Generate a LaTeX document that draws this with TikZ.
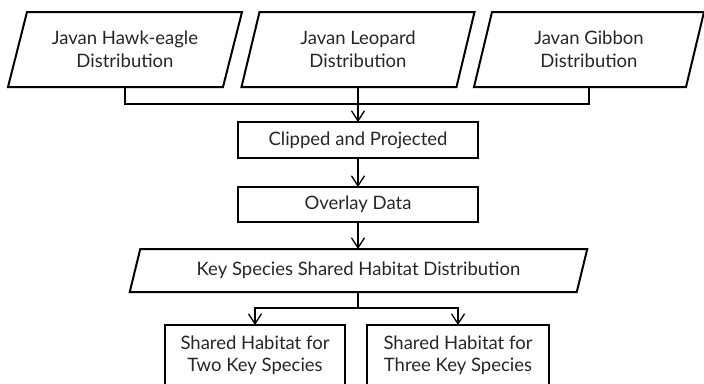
\documentclass[tikz,border=0pt]{standalone}
\usepackage{fontspec}
\setmainfont{Lato}
\usetikzlibrary{arrows.meta}
\definecolor{textgray}{HTML}{262626}
\begin{document}
\begin{tikzpicture}[x=1pt,y=-1pt,
  txt/.style={rectangle, align=center, inner sep=0pt, outer sep=0pt, text=textgray,
    font=\fontsize{18.5}{22.5}\selectfont},
  box/.style={txt, draw=black, line width=2pt},
  outline/.style={draw, line width=2pt, line join=miter},
  conn/.style={line width=1.3pt},
  arr/.style={conn, -{Straight Barb[length=10pt,width=13pt]}},
]
\useasboundingbox (0,0) rectangle (704,383);
\newcommand\drawpara[2]{\draw[outline] ([xshift=#2]#1.north west) -- ([xshift=#2]#1.north east) -- ([xshift=-#2]#1.south east) -- ([xshift=-#2]#1.south west) -- cycle;}

\node[txt, minimum width=215pt, minimum height=75pt] (hawk) at (125,49.5) {Javan Hawk-eagle\\Distribution};
\node[txt, minimum width=215pt, minimum height=75pt] (leopard) at (358,49.5) {Javan Leopard\\Distribution};
\node[txt, minimum width=212pt, minimum height=75pt] (gibbon) at (589,49.5) {Javan Gibbon\\Distribution};
\drawpara{hawk}{9.5pt}
\drawpara{leopard}{9pt}
\drawpara{gibbon}{9pt}

\node[box, minimum width=240pt, minimum height=36pt] (clip) at (358,140) {Clipped and Projected};
\node[box, minimum width=240pt, minimum height=35pt] (overlay) at (358,204.5) {Overlay Data};

\node[txt, minimum width=447pt, minimum height=43pt] (key) at (358.5,270.5) {Key Species Shared Habitat Distribution};
\drawpara{key}{5.25pt}

\node[box, minimum width=180pt, minimum height=61pt] (two) at (255,355.5) {Shared Habitat for\\Two Key Species};
\node[box, minimum width=182pt, minimum height=61pt] (three) at (458,355.5) {Shared Habitat for\\Three Key Species};

\coordinate (bus) at (358,104);
\draw[conn] (hawk.south) -- (hawk.south |- bus) -- (gibbon.south |- bus) -- (gibbon.south);
\draw[arr] (leopard.south) -- (clip.north);
\draw[arr] (clip.south) -- (overlay.north);
\draw[arr] (overlay.south) -- (overlay.south |- key.north);
\coordinate (split) at (358,308);
\draw[conn] (key.south -| split) -- (split);
\draw[arr] (split) -| (two.north);
\draw[arr] (split) -| (three.north);
\end{tikzpicture}
\end{document}
